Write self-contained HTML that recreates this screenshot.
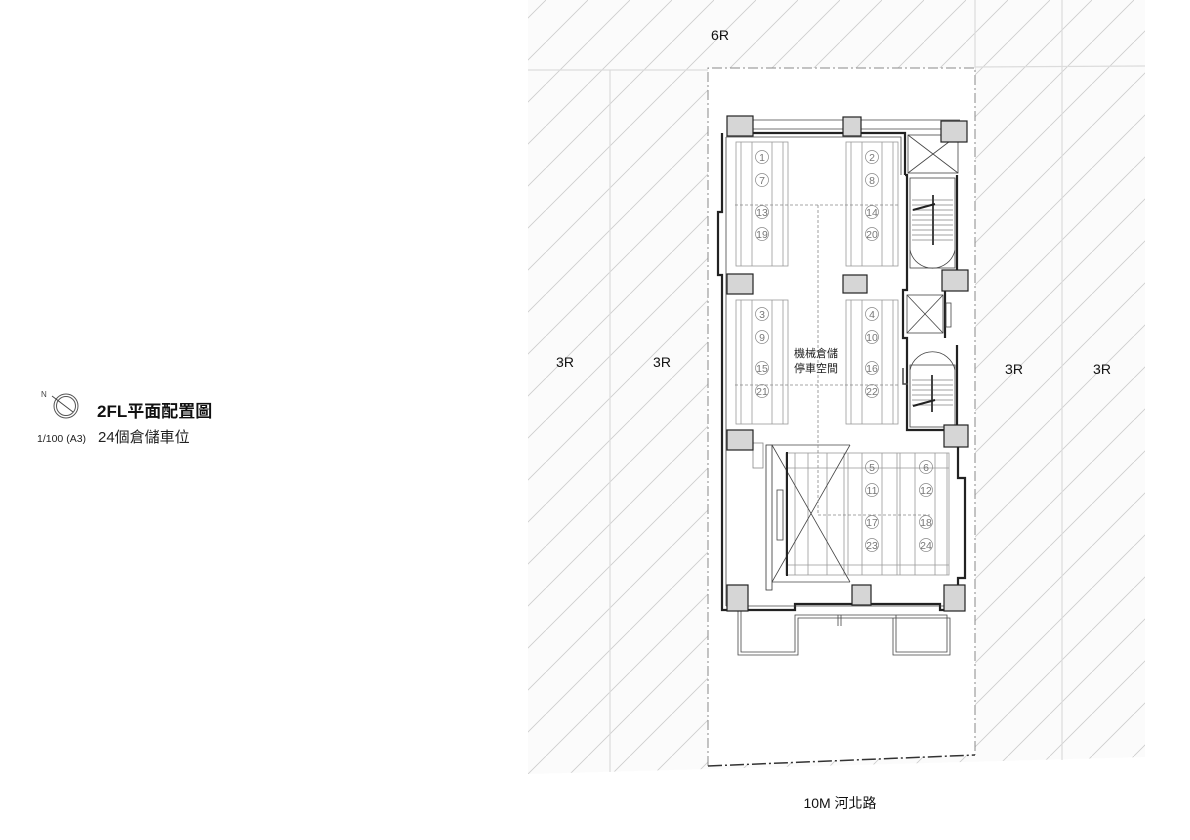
<!DOCTYPE html>
<html><head><meta charset="utf-8"><style>
html,body{margin:0;padding:0;background:#fff;}
svg{display:block;}
text{font-family:"Liberation Sans","Noto Sans CJK TC",sans-serif;}
</style></head><body>
<svg width="1190" height="840" viewBox="0 0 1190 840" xmlns="http://www.w3.org/2000/svg">
<defs>
<pattern id="h" patternUnits="userSpaceOnUse" width="42" height="42">
<rect width="42" height="42" fill="#fbfbfb"/>
<line x1="-2" y1="44" x2="44" y2="-2" stroke="#cdcdcd" stroke-width="0.8"/>
</pattern>
</defs>
<polygon points="528,0 1145,0 1145,757 528,774" fill="url(#h)"/>
<g stroke="#dcdcdc" stroke-width="1.2">
<line x1="528" y1="70" x2="708" y2="70"/><line x1="975" y1="67" x2="1145" y2="66"/>
<line x1="610" y1="70" x2="610" y2="772"/><line x1="1062" y1="0" x2="1062" y2="760"/>
<line x1="975" y1="0" x2="975" y2="70"/>
</g>
<polygon points="708,68 975,68 975,755 708,766" fill="#fff"/>
<polyline points="708,766 708,68 975,68 975,755" fill="none" stroke="#888" stroke-width="1" stroke-dasharray="10,3,2,3"/>
<line x1="708" y1="766" x2="975" y2="755" stroke="#333" stroke-width="1.5" stroke-dasharray="14,3,2,3"/>

<g fill="none" stroke="#222" stroke-width="2.2">
<polyline points="727,133 905,133 905,175"/>
<polyline points="722,133 722,212 718,212 718,275 722,275 722,610 770,610"/>
<polyline points="770,610 795,610 795,604 940,604 940,610 958,610 958,578 965,578 965,478 958,478 958,440 948,440"/>
<polyline points="905,175 907,175 907,290 903,290 903,338 907,338 907,430 945,430"/>
<line x1="957" y1="175" x2="957" y2="270"/>
<line x1="945" y1="290" x2="945" y2="338"/>
<line x1="957" y1="345" x2="957" y2="425"/>
</g>
<g fill="none" stroke="#444" stroke-width="0.8">
<polyline points="726,137 901,137 901,175"/>
<line x1="726" y1="137" x2="726" y2="606"/>
<line x1="727" y1="120" x2="960" y2="120"/>
<line x1="727" y1="129" x2="943" y2="129"/>
<line x1="726" y1="606" x2="955" y2="606"/>
<polyline points="738,610 738,655 798,655 798,618 950,618 950,655 893,655 893,618"/>
<polyline points="741,610 741,652 795,652 795,615 947,615 947,652 896,652 896,615"/>
<line x1="838" y1="615" x2="838" y2="626"/><line x1="841" y1="615" x2="841" y2="626"/>
<rect x="908" y="135" width="50" height="38"/>
<line x1="908" y1="135" x2="958" y2="173"/><line x1="958" y1="135" x2="908" y2="173"/>
<rect x="907" y="295" width="36" height="38"/>
<line x1="907" y1="295" x2="943" y2="333"/><line x1="943" y1="295" x2="907" y2="333"/>
<rect x="946" y="303" width="5" height="24"/>
<rect x="910" y="178" width="45" height="90"/>
<path d="M910,250 A23,23 0 0 0 955,250"/>
<line x1="933" y1="195" x2="933" y2="245" stroke-width="2"/>
<g stroke-width="0.5"><line x1="912" y1="200" x2="953" y2="200"/><line x1="912" y1="205" x2="953" y2="205"/><line x1="912" y1="210" x2="953" y2="210"/><line x1="912" y1="215" x2="953" y2="215"/><line x1="912" y1="220" x2="953" y2="220"/><line x1="912" y1="225" x2="953" y2="225"/><line x1="912" y1="230" x2="953" y2="230"/><line x1="912" y1="235" x2="953" y2="235"/><line x1="912" y1="240" x2="953" y2="240"/></g>
<line x1="913" y1="210" x2="935" y2="204" stroke-width="2" stroke="#222"/>
<rect x="910" y="365" width="45" height="62"/>
<path d="M910,370 A23,23 0 0 1 955,370"/>
<line x1="932" y1="375" x2="932" y2="412" stroke-width="2"/>
<g stroke-width="0.5"><line x1="912" y1="380" x2="953" y2="380"/><line x1="912" y1="385" x2="953" y2="385"/><line x1="912" y1="390" x2="953" y2="390"/><line x1="912" y1="395" x2="953" y2="395"/><line x1="912" y1="400" x2="953" y2="400"/><line x1="912" y1="405" x2="953" y2="405"/></g>
<line x1="913" y1="406" x2="935" y2="400" stroke-width="2" stroke="#222"/>
<polyline points="903,368 903,384 908,384" stroke-width="1.5"/>
<g stroke="#999" stroke-width="0.8">
<rect x="736" y="142" width="52" height="124"/><rect x="846" y="142" width="52" height="124"/>
<rect x="736" y="300" width="52" height="124"/><rect x="846" y="300" width="52" height="124"/>
<line x1="741" y1="142" x2="741" y2="266"/><line x1="752" y1="142" x2="752" y2="266"/><line x1="772" y1="142" x2="772" y2="266"/><line x1="783" y1="142" x2="783" y2="266"/>
<line x1="851" y1="142" x2="851" y2="266"/><line x1="862" y1="142" x2="862" y2="266"/><line x1="882" y1="142" x2="882" y2="266"/><line x1="893" y1="142" x2="893" y2="266"/>
<line x1="741" y1="300" x2="741" y2="424"/><line x1="752" y1="300" x2="752" y2="424"/><line x1="772" y1="300" x2="772" y2="424"/><line x1="783" y1="300" x2="783" y2="424"/>
<line x1="851" y1="300" x2="851" y2="424"/><line x1="862" y1="300" x2="862" y2="424"/><line x1="882" y1="300" x2="882" y2="424"/><line x1="893" y1="300" x2="893" y2="424"/>
<rect x="786" y="453" width="163" height="122"/>
<line x1="795" y1="453" x2="795" y2="575"/><line x1="808" y1="453" x2="808" y2="575"/><line x1="827" y1="453" x2="827" y2="575"/><line x1="844" y1="453" x2="844" y2="575"/><line x1="848" y1="453" x2="848" y2="575"/><line x1="862" y1="453" x2="862" y2="575"/><line x1="882" y1="453" x2="882" y2="575"/><line x1="897" y1="453" x2="897" y2="575"/><line x1="900" y1="453" x2="900" y2="575"/><line x1="915" y1="453" x2="915" y2="575"/><line x1="935" y1="453" x2="935" y2="575"/><line x1="947" y1="453" x2="947" y2="575"/>
<line x1="786" y1="468" x2="949" y2="468"/><line x1="786" y1="565" x2="949" y2="565"/>
</g>
<rect x="766" y="445" width="6" height="145" stroke="#333"/>
<line x1="772" y1="445" x2="850" y2="582"/><line x1="850" y1="445" x2="772" y2="582"/>
<rect x="777" y="490" width="6" height="50"/>
<line x1="787" y1="452" x2="787" y2="576" stroke="#222" stroke-width="2"/>
<line x1="772" y1="445" x2="850" y2="445"/><line x1="772" y1="582" x2="850" y2="582"/>
<rect x="753" y="443" width="10" height="25" stroke="#888"/>
</g>
<g stroke="#888" stroke-width="0.8" stroke-dasharray="3,2" fill="none">
<line x1="735" y1="205" x2="900" y2="205"/><line x1="735" y1="385" x2="900" y2="385"/>
<line x1="818" y1="205" x2="818" y2="515"/><line x1="818" y1="515" x2="930" y2="515"/>
</g>
<g fill="#d6d6d6" stroke="#222" stroke-width="1.2">
<rect x="727" y="116" width="26" height="20"/><rect x="843" y="117" width="18" height="19"/><rect x="941" y="121" width="26" height="21"/>
<rect x="727" y="274" width="26" height="20"/><rect x="843" y="275" width="24" height="18"/><rect x="942" y="270" width="26" height="21"/>
<rect x="727" y="430" width="26" height="20"/><rect x="944" y="425" width="24" height="22"/>
<rect x="727" y="585" width="21" height="26"/><rect x="852" y="585" width="19" height="20"/><rect x="944" y="585" width="21" height="26"/>
</g>
<g font-size="10.5" fill="#777" text-anchor="middle">
<g fill="none" stroke="#888" stroke-width="0.7">
<circle cx="762" cy="157" r="6.5"/><circle cx="762" cy="180" r="6.5"/><circle cx="762" cy="212" r="6.5"/><circle cx="762" cy="234" r="6.5"/>
<circle cx="872" cy="157" r="6.5"/><circle cx="872" cy="180" r="6.5"/><circle cx="872" cy="212" r="6.5"/><circle cx="872" cy="234" r="6.5"/>
<circle cx="762" cy="314" r="6.5"/><circle cx="762" cy="337" r="6.5"/><circle cx="762" cy="368" r="6.5"/><circle cx="762" cy="391" r="6.5"/>
<circle cx="872" cy="314" r="6.5"/><circle cx="872" cy="337" r="6.5"/><circle cx="872" cy="368" r="6.5"/><circle cx="872" cy="391" r="6.5"/>
<circle cx="872" cy="467" r="6.5"/><circle cx="872" cy="490" r="6.5"/><circle cx="872" cy="522" r="6.5"/><circle cx="872" cy="545" r="6.5"/>
<circle cx="926" cy="467" r="6.5"/><circle cx="926" cy="490" r="6.5"/><circle cx="926" cy="522" r="6.5"/><circle cx="926" cy="545" r="6.5"/>
</g>
<text x="762" y="161">1</text><text x="762" y="184">7</text><text x="762" y="216">13</text><text x="762" y="238">19</text>
<text x="872" y="161">2</text><text x="872" y="184">8</text><text x="872" y="216">14</text><text x="872" y="238">20</text>
<text x="762" y="318">3</text><text x="762" y="341">9</text><text x="762" y="372">15</text><text x="762" y="395">21</text>
<text x="872" y="318">4</text><text x="872" y="341">10</text><text x="872" y="372">16</text><text x="872" y="395">22</text>
<text x="872" y="471">5</text><text x="872" y="494">11</text><text x="872" y="526">17</text><text x="872" y="549">23</text>
<text x="926" y="471">6</text><text x="926" y="494">12</text><text x="926" y="526">18</text><text x="926" y="549">24</text>
</g>
<g font-size="11" fill="#222" text-anchor="middle">
<text x="816" y="357">機械倉儲</text><text x="816" y="372">停車空間</text>
</g>
<g font-size="14" fill="#111" text-anchor="middle">
<text x="720" y="40">6R</text>
<text x="565" y="367">3R</text><text x="662" y="367">3R</text>
<text x="1014" y="374">3R</text><text x="1102" y="374">3R</text>
<text x="840" y="808">10M 河北路</text>
</g>
<circle cx="66" cy="406" r="12" fill="none" stroke="#555" stroke-width="1"/>
<circle cx="66" cy="406" r="9.5" fill="none" stroke="#555" stroke-width="1"/>
<line x1="52" y1="396" x2="73" y2="412" stroke="#444" stroke-width="1"/>
<text x="41" y="397" font-size="8" fill="#444">N</text>
<text x="97" y="417" font-size="17" font-weight="bold" fill="#111">2FL平面配置圖</text>
<text x="37" y="442" font-size="10.5" fill="#222">1/100 (A3)</text>
<text x="98" y="442" font-size="15" fill="#222">24個倉儲車位</text>
</svg>
</body></html>
